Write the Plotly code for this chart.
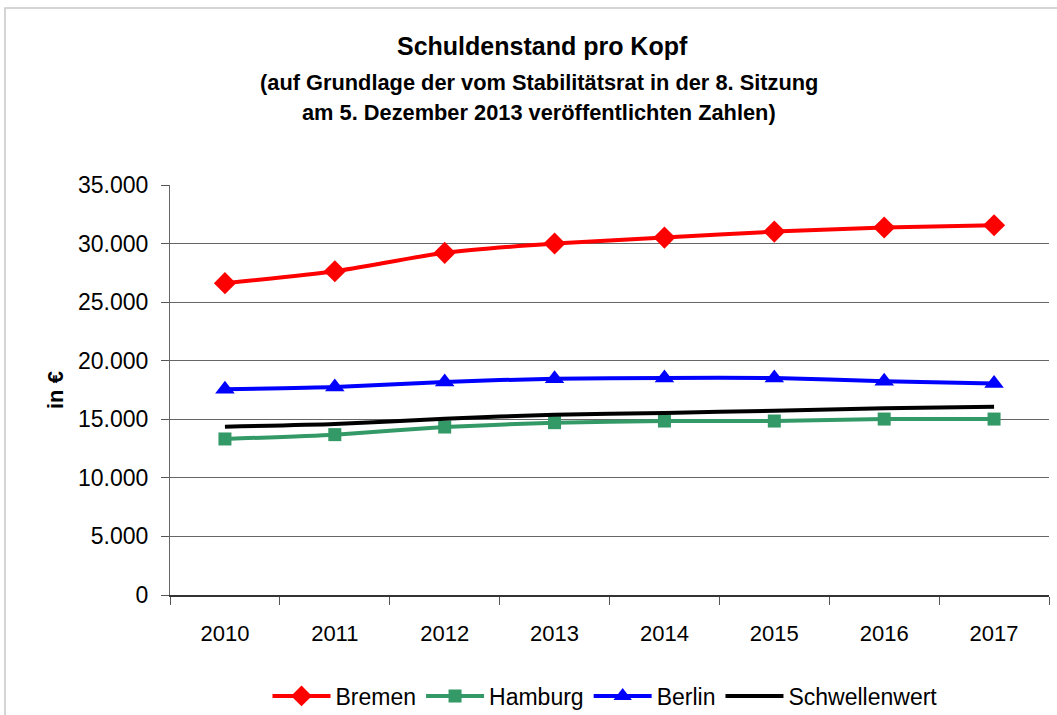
import plotly.graph_objects as go

years = ["2010", "2011", "2012", "2013", "2014", "2015", "2016", "2017"]
bremen = [26620, 27640, 29210, 30000, 30510, 31020, 31370, 31570]
hamburg = [13320, 13690, 14340, 14710, 14850, 14850, 15020, 15020]
berlin = [17570, 17750, 18190, 18470, 18530, 18530, 18250, 18050]
schwelle = [14370, 14600, 15050, 15390, 15540, 15730, 15940, 16080]

y_ticks = [0, 5000, 10000, 15000, 20000, 25000, 30000, 35000]
y_labels = ["0", "5.000", "10.000", "15.000", "20.000", "25.000", "30.000", "35.000"]

FONT = "Liberation Sans, Arial, sans-serif"

fig = go.Figure()
fig.add_trace(go.Scatter(x=years, y=bremen, name="Bremen", mode="lines+markers",
                         line=dict(color="#FF0000", width=4, shape="spline", smoothing=0.6),
                         marker=dict(symbol="diamond", size=17, color="#FF0000")))
fig.add_trace(go.Scatter(x=years, y=hamburg, name="Hamburg", mode="lines+markers",
                         line=dict(color="#339966", width=4, shape="spline", smoothing=0.6),
                         marker=dict(symbol="square", size=13, color="#339966")))
fig.add_trace(go.Scatter(x=years, y=berlin, name="Berlin", mode="lines+markers",
                         line=dict(color="#0000FF", width=4, shape="spline", smoothing=0.6),
                         marker=dict(symbol="triangle-up", size=17, color="#0000FF")))
fig.add_trace(go.Scatter(x=years, y=schwelle, name="Schwellenwert", mode="lines",
                         line=dict(color="#000000", width=4, shape="spline", smoothing=0.6)))

W, H = 1057, 715
L, R, T, B = 170, 1049, 185, 595
pw, ph = R - L, B - T

def px(x):
    return (x - L) / pw

def py(y):
    return (B - y) / ph

fig.update_layout(
    width=W, height=H,
    margin=dict(l=L, r=W - R, t=T, b=H - B, pad=0, autoexpand=False),
    paper_bgcolor="white", plot_bgcolor="white",
    font=dict(family=FONT, size=22, color="black"),
    showlegend=True,
    legend=dict(orientation="h", x=px(605), y=py(696), xanchor="center", yanchor="middle",
                font=dict(size=23), itemwidth=58, tracegroupgap=0, bgcolor="rgba(0,0,0,0)"),
    xaxis=dict(type="category", tickson="boundaries", ticks="outside", ticklen=8,
               tickcolor="#555", showgrid=False, showline=True, linecolor="#333", linewidth=1.5,
               ticklabelstandoff=18, tickfont=dict(size=22), range=[-0.5, 7.5], automargin=False),
    yaxis=dict(range=[0, 35000], tickvals=y_ticks, ticktext=y_labels, ticks="outside", ticklen=8,
               tickcolor="#555", showgrid=True, gridcolor="#666", gridwidth=1,
               showline=True, linecolor="#666", linewidth=1, zeroline=False,
               tickfont=dict(size=23), ticklabelstandoff=8, automargin=False),
    shapes=[dict(type="rect", xref="paper", yref="paper",
                 x0=px(5), x1=px(1070), y0=py(730), y1=py(8),
                 line=dict(color="#c8c8c8", width=1.5), fillcolor="rgba(0,0,0,0)", layer="below")],
    annotations=[
        dict(text="<b>Schuldenstand pro Kopf</b>", x=px(542), y=py(46), xref="paper", yref="paper",
             showarrow=False, font=dict(size=25), xanchor="center", yanchor="middle"),
        dict(text="<b>(auf Grundlage der vom Stabilitätsrat in der 8. Sitzung</b>", x=px(539), y=py(82),
             xref="paper", yref="paper", showarrow=False, font=dict(size=21.8), xanchor="center", yanchor="middle"),
        dict(text="<b>am 5. Dezember 2013 veröffentlichten Zahlen)</b>", x=px(539), y=py(112),
             xref="paper", yref="paper", showarrow=False, font=dict(size=21.8), xanchor="center", yanchor="middle"),
        dict(text="<b>in €</b>", x=px(55), y=py(390), xref="paper", yref="paper", textangle=-90,
             showarrow=False, font=dict(size=22), xanchor="center", yanchor="middle"),
    ],
)

fig.write_html("out.html", config={"displayModeBar": False},
               post_script="document.body.style.margin='0';document.body.style.overflow='hidden';")
